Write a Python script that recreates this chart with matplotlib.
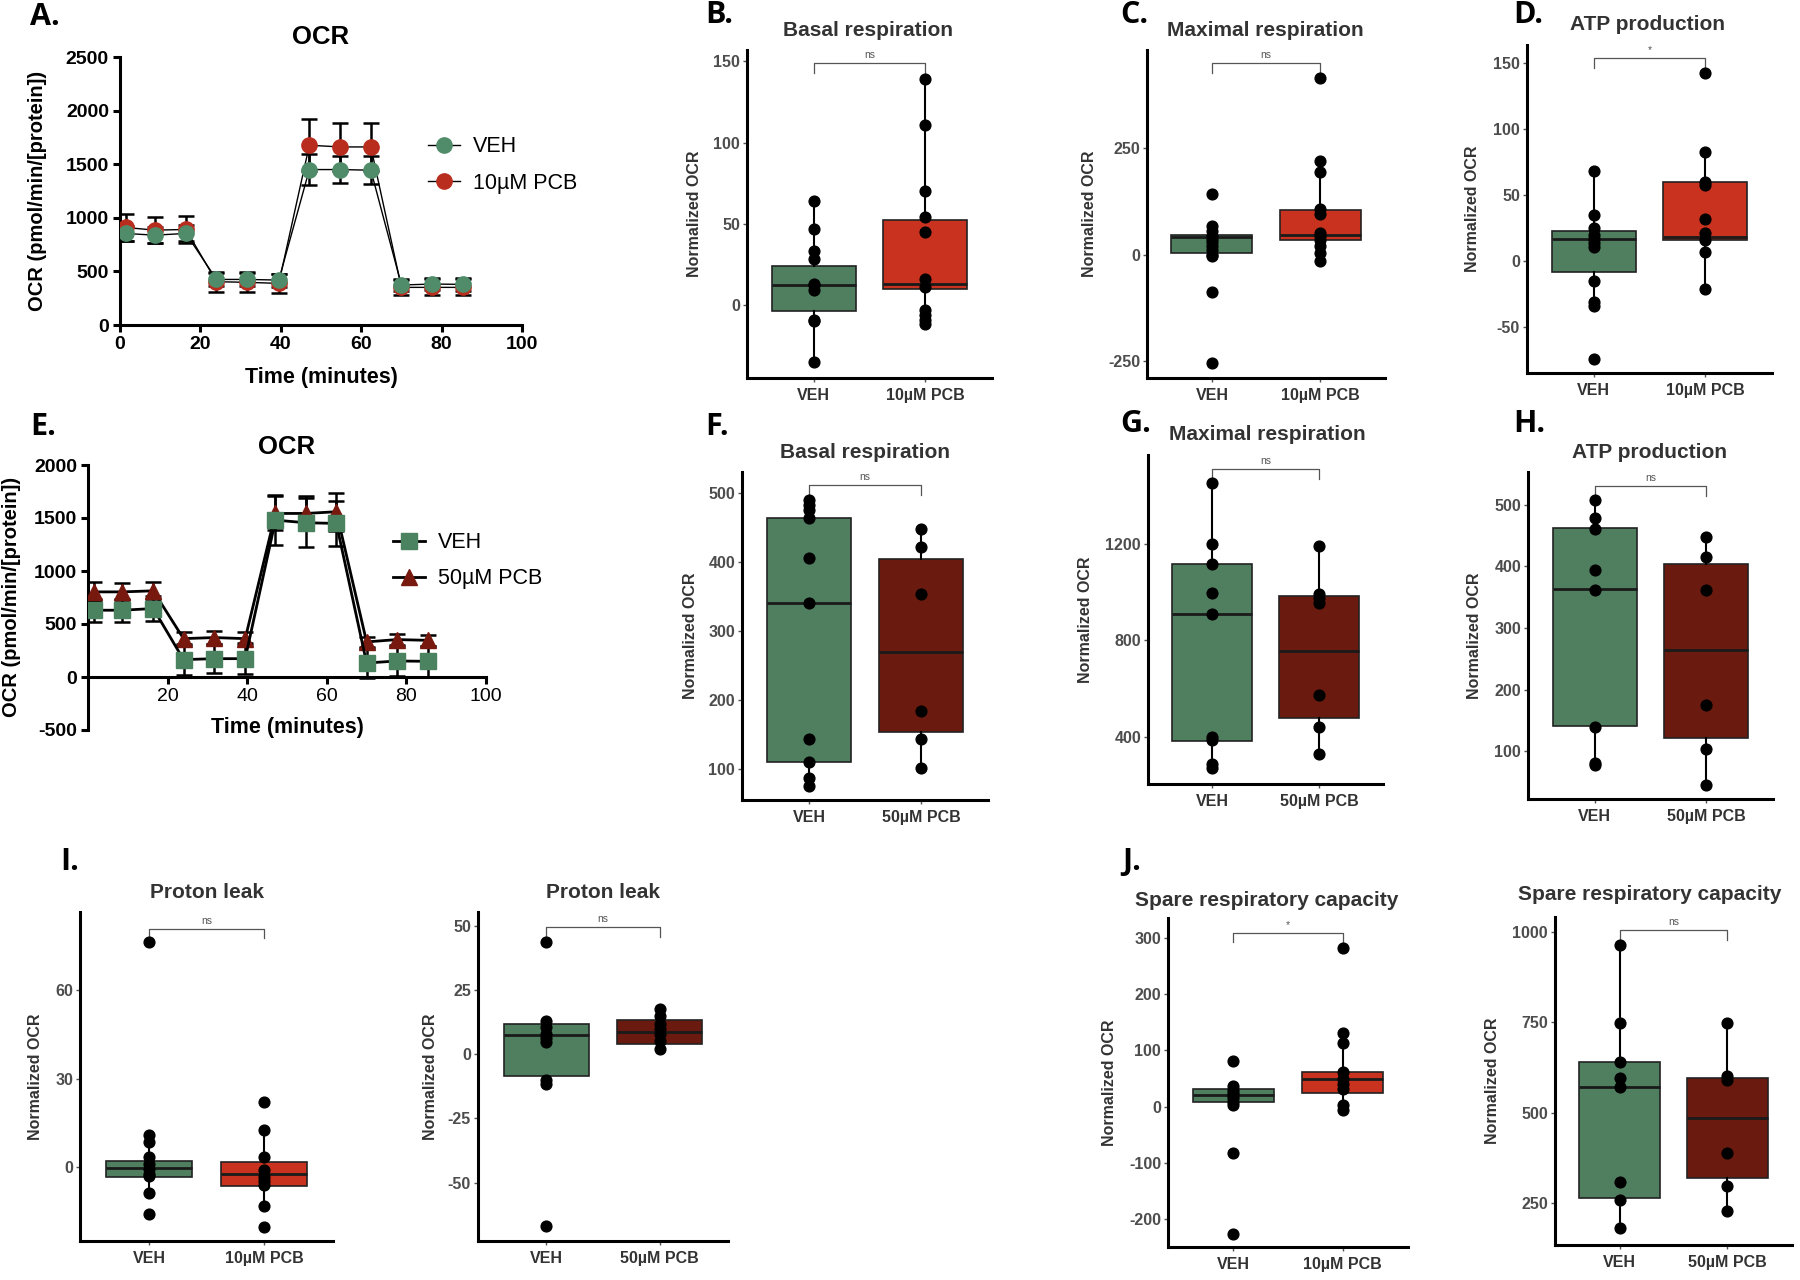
import matplotlib.pyplot as plt

W, H = 1800, 1280
plt.rcParams['font.family'] = ['Liberation Sans', 'DejaVu Sans']
plt.rcParams['axes.unicode_minus'] = False

# ---- seahorse OCR traces (panels A and E) ----
time_min = [1.4, 8.6, 16.4, 24.0, 31.7, 39.5, 47.1, 54.8, 62.4, 70.0, 77.6, 85.4]

a_veh = [854, 838, 854, 425, 425, 419, 1450, 1450, 1444, 373, 382, 379]
a_veh_err = [71, 75, 75, 63, 65, 60, 143, 130, 130, 60, 55, 58]
a_pcb = [910, 885, 891, 404, 398, 388, 1677, 1661, 1661, 351, 351, 351]
a_pcb_err = [124, 118, 124, 93, 90, 92, 240, 225, 225, 72, 75, 75]

e_veh = [630, 630, 646, 164, 173, 173, 1480, 1455, 1449, 132, 151, 148]
e_veh_err = [110, 110, 120, 145, 135, 145, 235, 230, 210, 140, 140, 148]
e_pcb = [803, 803, 813, 362, 372, 362, 1543, 1543, 1559, 331, 353, 346]
e_pcb_err = [90, 80, 80, 60, 60, 60, 160, 160, 180, 50, 50, 50]

# ---- normalized OCR boxplots: points and [q1, median, q3, whisker low, whisker high] ----
b_veh = [64, 47, 33, 28, 13, 12, 9, -9, -10, -35]
b_veh_box = [-4, 12, 24, -35, 64]
b_pcb = [139, 111, 70, 54, 45, 16, 11, -3, -6, -9, -12]
b_pcb_box = [10, 13, 52, -12, 139]

c_veh = [142, 68, 55, 45, 38, 30, 20, 10, 0, -4, -88, -254]
c_veh_box = [4, 41, 47, -4, 68]
c_pcb = [414, 219, 194, 108, 95, 50, 45, 35, 20, 5, -15]
c_pcb_box = [34, 47, 105, -15, 219]

d_veh = [68, 35, 25, 20, 17, 14, 11, -15, -31, -34, -74]
d_veh_box = [-8, 17, 23, -34, 68]
d_pcb = [143, 83, 60, 58, 32, 21, 16, 7, -21]
d_pcb_box = [16, 18, 60, -21, 83]

f_veh = [490, 482, 475, 463, 406, 340, 143, 110, 87, 75]
f_veh_box = [110, 341, 464, 75, 490]
f_pcb = [447, 421, 353, 184, 144, 102]
f_pcb_box = [154, 270, 404, 102, 447]

g_veh = [1453, 1200, 1117, 997, 911, 400, 385, 286, 268]
g_veh_box = [382, 911, 1117, 268, 1453]
g_pcb = [1193, 994, 975, 957, 571, 442, 328]
g_pcb_box = [476, 758, 983, 328, 1193]

h_veh = [507, 479, 460, 394, 362, 140, 82, 78]
h_veh_box = [141, 363, 462, 78, 507]
h_pcb = [448, 415, 362, 175, 104, 45]
h_pcb_box = [122, 265, 404, 45, 448]

i1_veh = [76.4, 10.8, 8.5, 3.4, 1, -0.5, -2.3, -3, -8.7, -15.9]
i1_veh_box = [-3.4, -0.2, 2.3, -8.7, 10.8]
i1_pcb = [22, 12.5, 3.4, -1, -3.4, -4.5, -6, -13, -20.4]
i1_pcb_box = [-6.5, -2.3, 1.7, -13, 12.5]

i2_veh = [43.8, 13, 10.7, 8, 6.5, 4.8, -10.1, -11.4, -67]
i2_veh_box = [-8.5, 7.4, 12, -11.4, 13]
i2_pcb = [17.8, 15, 12, 10, 8, 5, 2.2]
i2_pcb_box = [4.2, 8.7, 13.3, 2.2, 17.8]

j1_veh = [81, 36, 30, 25, 20, 15, 8, 3, -82, -226]
j1_veh_box = [9, 21, 31, 3, 36]
j1_pcb = [282, 131, 113, 61, 50, 40, 31, 3, -6]
j1_pcb_box = [24, 49, 61, -6, 131]

j2_veh = [965, 747, 641, 595, 572, 310, 259, 181]
j2_veh_box = [264, 572, 641, 181, 965]
j2_pcb = [747, 601, 591, 390, 298, 229]
j2_pcb_box = [319, 485, 597, 229, 747]

groups_10 = ['VEH', '10µM PCB']
groups_50 = ['VEH', '50µM PCB']

GREEN_BOX = '#4f7f5f'
RED_BOX = '#c8321e'
DARK_BOX = '#6a1a0e'

fig = plt.figure(figsize=(18, 12.8), dpi=100)


def px_axes(l, t, r, b):
    return fig.add_axes([l / W, 1 - b / H, (r - l) / W, (b - t) / H])


def px_text(x, y, s, **kw):
    fig.text(x / W, 1 - y / H, s, **kw)


def letter(x, y, s):
    px_text(x, y, s, fontsize=22, fontweight='bold', ha='left', va='center',
            family=['Open Sans', 'DejaVu Sans'])


def ocr_panel(rect, veh, veh_err, pcb, pcb_err, styles, labels, ylim, yticks, xticks, leg_xy, lw):
    ax = px_axes(*rect)
    for y, err in [(pcb, pcb_err), (veh, veh_err)]:
        ax.errorbar(time_min, y, yerr=err, fmt='none', ecolor='black', elinewidth=1.8,
                    capsize=6, capthick=1.8, zorder=2)
    ax.plot(time_min, pcb, color='black', lw=lw, marker=styles[1][0], ms=11,
            mfc=styles[1][1], mec=styles[1][1], label=labels[1], zorder=3)
    ax.plot(time_min, veh, color='black', lw=lw, marker=styles[0][0], ms=11,
            mfc=styles[0][1], mec=styles[0][1], label=labels[0], zorder=4)
    ax.set_xlim(0, 100)
    ax.set_ylim(*ylim)
    ax.set_xticks(xticks)
    ax.set_yticks(yticks)
    for s in ['top', 'right']:
        ax.spines[s].set_visible(False)
    for s in ['left', 'bottom']:
        ax.spines[s].set_linewidth(2.2)
    ax.tick_params(direction='out', length=5, width=2.2, labelsize=14, pad=3)
    plt.setp(ax.get_xticklabels() + ax.get_yticklabels(), fontweight='bold')
    h, l = ax.get_legend_handles_labels()
    ax.legend(h[::-1], l[::-1], loc='center left', bbox_to_anchor=leg_xy, frameon=False,
              borderaxespad=0, borderpad=0, handlelength=1.5, handletextpad=0.6,
              labelspacing=0.7, fontsize=15.5)
    return ax


def box_panel(rect, pts, boxes, fill, xlabels, ylim, yticks, sig, sig_y, ylab_dx):
    ax = px_axes(*rect)
    stats = []
    for q1, med, q3, lo, hi in boxes:
        stats.append(dict(q1=q1, med=med, q3=q3, whislo=lo, whishi=hi, fliers=[]))
    bp = ax.bxp(stats, positions=[1, 2], widths=0.75, patch_artist=True, showfliers=False,
                showcaps=False,
                boxprops=dict(linewidth=1.2, edgecolor='#222222'),
                whiskerprops=dict(linewidth=1.5, color='black'),
                medianprops=dict(linewidth=2, color='#1a1a1a'))
    for patch, c in zip(bp['boxes'], [GREEN_BOX, fill]):
        patch.set_facecolor(c)
    for i, p in enumerate(pts):
        ax.scatter([i + 1] * len(p), p, s=60, color='black', zorder=4)
    ax.set_xlim(0.4, 2.6)
    ax.set_ylim(*ylim)
    ax.set_yticks(yticks)
    ax.set_xticks([1, 2])
    ax.set_xticklabels(xlabels)
    for s in ['top', 'right']:
        ax.spines[s].set_visible(False)
    for s in ['left', 'bottom']:
        ax.spines[s].set_linewidth(2.2)
    ax.tick_params(axis='y', length=3, width=1, color='#555555', labelsize=11.5,
                   labelcolor='#4d4d4d', pad=2)
    ax.tick_params(axis='x', length=3, width=1, color='#555555', labelsize=11.5,
                   labelcolor='#333333', pad=4)
    plt.setp(ax.get_xticklabels() + ax.get_yticklabels(), fontweight='bold')
    ax.set_ylabel('Normalized OCR', fontsize=11.5, fontweight='bold', color='#333333')
    ax.yaxis.set_label_coords(ylab_dx / (rect[2] - rect[0]), 0.5)
    d = (ylim[1] - ylim[0]) * 0.03
    ax.plot([1, 1, 2, 2], [sig_y - d, sig_y, sig_y, sig_y - d], color='#555555', lw=0.9,
            clip_on=False)
    ax.text(1.5, sig_y + d * 0.3, sig, ha='center', va='bottom', fontsize=7.5, color='#555555',
            clip_on=False)
    return ax


# ---- A ----
ocr_panel((120, 57, 522, 325), a_veh, a_veh_err, a_pcb, a_pcb_err,
          [('o', '#508c69'), ('o', '#b92d1e')], ['VEH', '10µM PCB'],
          (0, 2500), range(0, 2501, 500), range(0, 101, 20), (0.766, 0.597), 1)
px_text(321, 37, 'OCR', fontsize=18.5, fontweight='bold', ha='center', va='center')
px_text(321, 377, 'Time (minutes)', fontsize=15.5, fontweight='bold', ha='center', va='center')
px_text(38, 191, 'OCR (pmol/min/[protein])', fontsize=14.5, fontweight='bold', rotation=90,
        ha='center', va='center')
letter(30, 17, 'A.')

# ---- E ----
axE = ocr_panel((88, 465, 486, 730), e_veh, e_veh_err, e_pcb, e_pcb_err,
                [('s', '#4b825f'), ('^', '#78190f')], ['VEH', '50µM PCB'],
                (-500, 2000), range(-500, 2001, 500), range(20, 101, 20), (0.766, 0.638), 2)
axE.spines['bottom'].set_position(('data', 0))
px_text(287, 447, 'OCR', fontsize=18.5, fontweight='bold', ha='center', va='center')
px_text(287, 728, 'Time (minutes)', fontsize=15.5, fontweight='bold', ha='center', va='center')
px_text(12, 597, 'OCR (pmol/min/[protein])', fontsize=14.5, fontweight='bold', rotation=90,
        ha='center', va='center')
letter(30, 427, 'E.')

# ---- boxplot panels ----
title_kw = dict(fontsize=15, fontweight='bold', color='#333333', ha='center', va='center')

box_panel((747, 50, 992, 378), [b_veh, b_pcb], [b_veh_box, b_pcb_box], RED_BOX, groups_10,
          (-45, 157), [0, 50, 100, 150], 'ns', 149, -45)
px_text(868, 30, 'Basal respiration', **title_kw)
letter(705, 15, 'B.')

box_panel((1147, 50, 1385, 378), [c_veh, c_pcb], [c_veh_box, c_pcb_box], RED_BOX, groups_10,
          (-289, 480), [-250, 0, 250], 'ns', 449, -50)
px_text(1265, 30, 'Maximal respiration', **title_kw)
letter(1120, 15, 'C.')

box_panel((1527, 45, 1772, 373), [d_veh, d_pcb], [d_veh_box, d_pcb_box], RED_BOX, groups_10,
          (-85, 164), [-50, 0, 50, 100, 150], '*', 154, -47)
px_text(1648, 24, 'ATP production', **title_kw)
letter(1513, 15, 'D.')

box_panel((742, 472, 988, 800), [f_veh, f_pcb], [f_veh_box, f_pcb_box], DARK_BOX, groups_50,
          (55, 530), [100, 200, 300, 400, 500], 'ns', 511, -44)
px_text(865, 452, 'Basal respiration', **title_kw)
letter(705, 427, 'F.')

box_panel((1148, 455, 1383, 784), [g_veh, g_pcb], [g_veh_box, g_pcb_box], DARK_BOX, groups_50,
          (203, 1571), [400, 800, 1200], 'ns', 1511, -55)
px_text(1267, 435, 'Maximal respiration', **title_kw)
letter(1120, 424, 'G.')

box_panel((1528, 472, 1773, 799), [h_veh, h_pcb], [h_veh_box, h_pcb_box], DARK_BOX, groups_50,
          (23, 553), [100, 200, 300, 400, 500], 'ns', 530, -46)
px_text(1650, 452, 'ATP production', **title_kw)
letter(1513, 424, 'H.')

box_panel((80, 912, 333, 1241), [i1_veh, i1_pcb], [i1_veh_box, i1_pcb_box], RED_BOX, groups_10,
          (-25, 86.6), [0, 30, 60], 'ns', 81, -37)
px_text(207, 892, 'Proton leak', **title_kw)
letter(60, 862, 'I.')

box_panel((478, 912, 728, 1241), [i2_veh, i2_pcb], [i2_veh_box, i2_pcb_box], DARK_BOX, groups_50,
          (-72.8, 55.5), [-50, -25, 0, 25, 50], 'ns', 49.7, -40)
px_text(603, 893, 'Proton leak', **title_kw)

box_panel((1168, 918, 1408, 1247), [j1_veh, j1_pcb], [j1_veh_box, j1_pcb_box], RED_BOX, groups_10,
          (-250, 336), [-200, -100, 0, 100, 200, 300], '*', 310, -51)
px_text(1267, 900, 'Spare respiratory capacity', **title_kw)
letter(1122, 862, 'J.')

box_panel((1555, 917, 1792, 1245), [j2_veh, j2_pcb], [j2_veh_box, j2_pcb_box], DARK_BOX, groups_50,
          (135, 1041), [250, 500, 750, 1000], 'ns', 1006, -55)
px_text(1650, 895, 'Spare respiratory capacity', **title_kw)

fig.savefig('out.png', dpi=100, facecolor='white')
